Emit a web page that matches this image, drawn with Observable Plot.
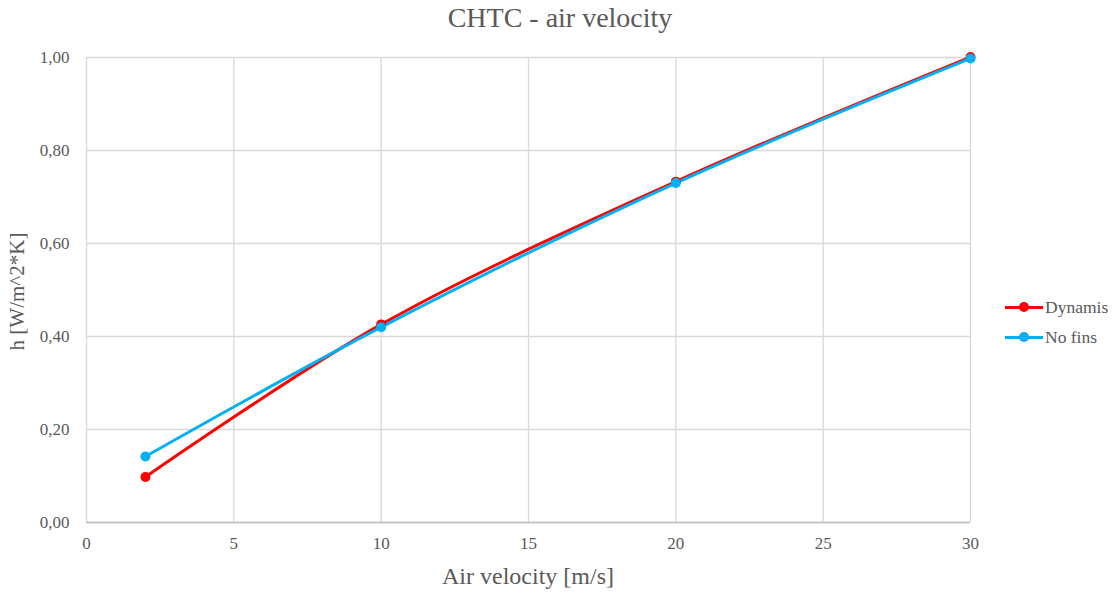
<!DOCTYPE html>
<html>
<head>
<meta charset="utf-8">
<script src="https://cdn.jsdelivr.net/npm/d3@7"></script>
<script src="https://cdn.jsdelivr.net/npm/@observablehq/plot@0.6"></script>
<style>
  html, body { margin: 0; padding: 0; background: #fff; }
  #wrap { position: relative; width: 1120px; height: 592px; font-family: "Liberation Serif", "Times New Roman", serif; }
  #title { position: absolute; left: 0; top: 2px; width: 1120px; text-align: center; font-size: 28px; color: #595959; }
  #chart { position: absolute; left: 0; top: 40px; }
  #legend { position: absolute; left: 1005px; top: 292px; font-size: 17.5px; color: #595959; }
  .item { display: flex; align-items: center; height: 30px; }
  .sw { position: relative; width: 38px; height: 10px; margin-right: 2px; }
  .sw .ln { position: absolute; left: 0; top: 3.5px; width: 38px; height: 3px; }
  .sw .dt { position: absolute; left: 14px; top: 0; width: 10px; height: 10px; border-radius: 50%; }
</style>
</head>
<body>
<div id="wrap">
  <div id="title">CHTC - air velocity</div>
  <div id="chart"></div>
  <div id="legend"></div>
</div>
<script>
const velocity = [2, 10, 20, 30];
const dynamis = [0.098, 0.426, 0.733, 1.001];
const noFins = [0.142, 0.420, 0.730, 0.998];
const seriesNames = ["Dynamis", "No fins"];
const seriesColors = ["#FF0000", "#00B0F0"];
const xTicks = [0, 5, 10, 15, 20, 25, 30];
const yTicks = [0, 0.2, 0.4, 0.6, 0.8, 1.0];

const rows = [];
velocity.forEach((v, i) => {
  rows.push({series: seriesNames[0], x: v, y: dynamis[i]});
  rows.push({series: seriesNames[1], x: v, y: noFins[i]});
});

const fmt = d => d3.format(".2f")(d).replace(".", ",");

const chart = Plot.plot({
  width: 1120,
  height: 552,
  marginTop: 17,
  marginBottom: 70,
  marginLeft: 86,
  marginRight: 150,
  style: {fontFamily: "Liberation Serif, Times New Roman, serif", fontSize: "17px", color: "#595959", background: "#fff"},
  x: {domain: [0, 30], ticks: xTicks, tickSize: 0, tickPadding: 14, label: null},
  y: {domain: [0, 1], ticks: yTicks, tickSize: 0, tickPadding: 17, tickFormat: fmt, label: null},
  color: {domain: seriesNames, range: seriesColors},
  marks: [
    Plot.gridX(xTicks, {stroke: "#d9d9d9", strokeOpacity: 1, strokeWidth: 1.3}),
    Plot.gridY(yTicks, {stroke: "#d9d9d9", strokeOpacity: 1, strokeWidth: 1.3}),
    Plot.ruleY([0], {stroke: "#bfbfbf", strokeWidth: 1.5}),
    Plot.axisX({ticks: xTicks, tickSize: 0, tickPadding: 14, label: null, fill: "#595959"}),
    Plot.axisY({ticks: yTicks, tickSize: 0, tickPadding: 17, tickFormat: fmt, label: null, fill: "#595959"}),
    Plot.line(rows, {x: "x", y: "y", z: "series", stroke: "series", strokeWidth: 3, curve: "catmull-rom"}),
    Plot.dot(rows, {x: "x", y: "y", fill: "series", r: 5})
  ]
});

const svg = d3.select(chart);
svg.append("text")
  .attr("x", (86 + 970) / 2).attr("y", 544)
  .attr("text-anchor", "middle")
  .style("font-size", "24px").style("fill", "#595959")
  .text("Air velocity [m/s]");
svg.append("text")
  .attr("transform", `translate(24, ${(17 + 482) / 2 + 2}) rotate(-90)`)
  .attr("text-anchor", "middle")
  .style("font-size", "21px").style("fill", "#595959")
  .text("h [W/m^2*K]");

document.getElementById("chart").appendChild(chart);

const legend = document.getElementById("legend");
seriesNames.forEach((n, i) => {
  const it = document.createElement("div");
  it.className = "item";
  it.innerHTML = `<div class="sw"><div class="ln" style="background:${seriesColors[i]}"></div><div class="dt" style="background:${seriesColors[i]}"></div></div><span>${n}</span>`;
  legend.appendChild(it);
});
</script>
</body>
</html>
